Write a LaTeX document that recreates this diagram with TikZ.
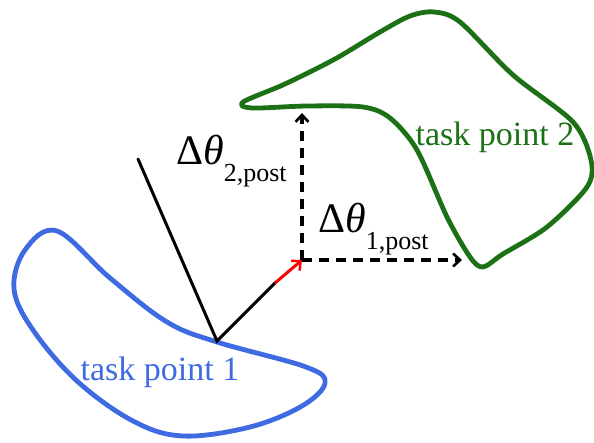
\documentclass[tikz,border=0pt]{standalone}
\usepackage{fontspec}
\setmainfont{Liberation Serif}
\usetikzlibrary{arrows.meta}
\definecolor{tpblue}{RGB}{62,106,226}
\definecolor{tpgreen}{RGB}{28,112,22}
\tikzset{
  blob/.style={line width=4.8pt, line join=round},
  arm/.style={line width=3pt, black},
  dasharrow/.style={line width=3.2pt, dash pattern=on 10pt off 7pt, -{Straight Barb[length=7pt,width=13pt,line width=2.6pt]}},
  lbl/.style={inner sep=0pt, font=\fontsize{34}{36}\selectfont},
  dlbl/.style={anchor=base west, inner sep=0pt, font=\fontsize{42}{44}\selectfont},
}
\newcommand{\postsub}[1]{\raisebox{-17pt}{\fontsize{26}{28}\selectfont #1,post}}
\begin{document}
\begin{tikzpicture}[x=1pt,y=-1pt]
\useasboundingbox (0,0) rectangle (594,443);
% blue blob
\draw[blob, tpblue] plot[smooth cycle, tension=0.6] coordinates {
 (57,231) (110,278) (167,322) (217,342) (306,367) (325,383) (302,406) (250,427) (183,436)
 (133,421) (77,381) (33,330) (14,289) (25,250)};
% green blob
\draw[blob, tpgreen] plot[smooth cycle, tension=0.5] coordinates {
 (243,102) (285,84) (335,59) (380,32) (410,16) (434,12) (460,22) (513,75) (573,122) (591,160) (587,187)
 (547,227) (503,254) (483,267) (470,257) (447,217) (417,150) (390,118) (363,107) (307,106) (252,108)};
% points
\coordinate (base) at (217,341);
\coordinate (tl) at (138,159);
\coordinate (mid) at (275,283);
\coordinate (corner) at (302,260);
\coordinate (up) at (302,113);
\coordinate (right) at (462,260);
\draw[arm, line cap=round] (tl) -- (base) -- (mid);
\draw[line width=3pt, red, -{Straight Barb[length=7pt,width=13pt,line width=2.4pt]}] (mid) -- (corner);
\draw[dasharrow] (corner) -- (up);
\draw[dasharrow] (corner) -- (right);
% labels
\node[lbl, text=tpblue] (t1) at (160,372) {task point 1};
\node[lbl, text=tpgreen] (t2) at (495,137) {task point 2};
\node[dlbl] (d2) at (176,165) {Δ\textit{θ}\postsub{2}};
\node[dlbl] (d1) at (318,233) {Δ\textit{θ}\postsub{1}};
\end{tikzpicture}
\end{document}
